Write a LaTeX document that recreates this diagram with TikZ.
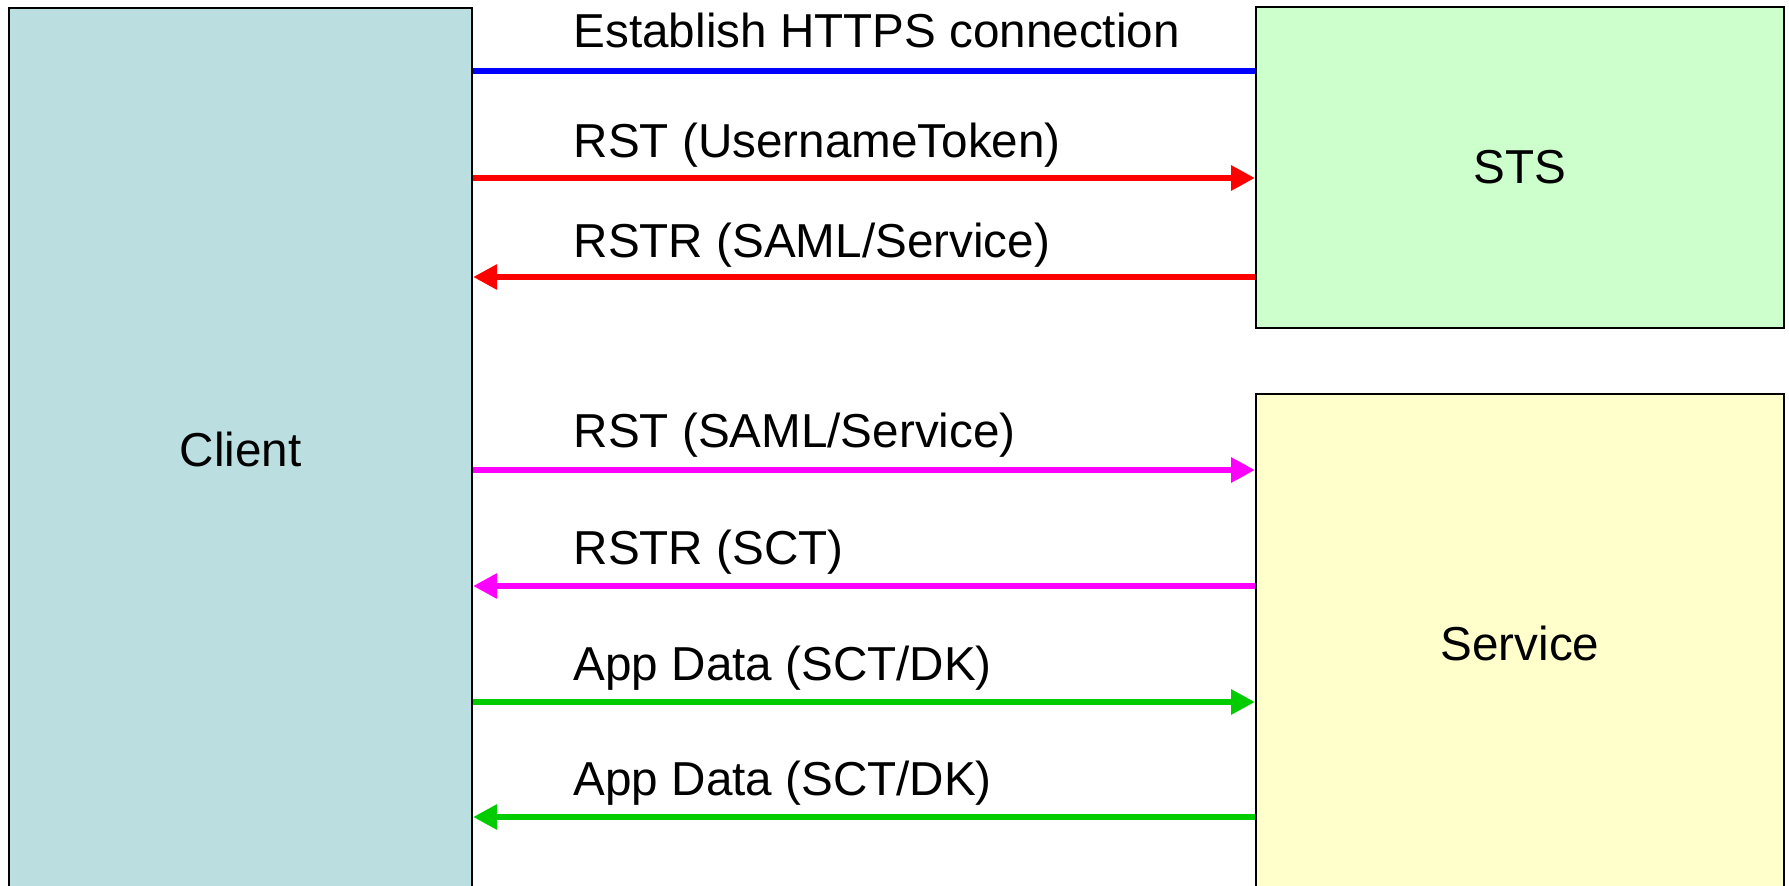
\documentclass[tikz,border=0pt]{standalone}
\usepackage{fontspec}
\setmainfont{Liberation Sans}
\usepackage{xcolor}
\usetikzlibrary{arrows.meta,positioning}
\definecolor{clientfill}{RGB}{187,223,225}
\definecolor{stsfill}{RGB}{204,255,204}
\definecolor{svcfill}{RGB}{255,255,204}
\definecolor{msgblue}{RGB}{0,0,255}
\definecolor{msgred}{RGB}{255,0,0}
\definecolor{msgpink}{RGB}{255,0,255}
\definecolor{msggreen}{RGB}{0,204,0}

\begin{document}
\begin{tikzpicture}[
  font=\fontsize{13.55}{16.2}\selectfont,
  party/.style={draw, line width=0.6pt, rectangle, inner sep=0pt, align=center},
  msg/.style={line width=1.7pt},
  arrow/.style={msg, -{Triangle[length=0.24cm, width=0.24cm]}},
  lbl/.style={anchor=base west, inner sep=0pt}
]
\useasboundingbox (0,0) rectangle (17.89,8.85);

\node[party, anchor=north west, fill=clientfill, minimum width=4.63cm, minimum height=8.83cm] (client) at (0.08,8.78) {Client};
\node[party, anchor=north west, fill=stsfill, minimum width=5.28cm, minimum height=3.21cm] (sts) at (12.55,8.79) {STS};
\node[party, fill=svcfill, minimum width=5.28cm, minimum height=4.99cm, below=0.64cm of sts] (svc) {Service};

% client <-> STS
\draw[msg, msgblue] (client.east |- 0,8.14) -- (sts.west |- 0,8.14);
\node[lbl] (m1) at (5.73,8.38) {Establish HTTPS connection};
\draw[arrow, msgred] (client.east |- 0,7.07) -- (sts.west |- 0,7.07);
\node[lbl] (m2) at (5.73,7.28) {RST (UsernameToken)};
\draw[arrow, msgred] (sts.west |- 0,6.08) -- (client.east |- 0,6.08);
\node[lbl] (m3) at (5.73,6.28) {RSTR (SAML/Service)};

% client <-> service
\draw[arrow, msgpink] (client.east |- 0,4.15) -- (svc.west |- 0,4.15);
\node[lbl] (m4) at (5.73,4.38) {RST (SAML/Service)};
\draw[arrow, msgpink] (svc.west |- 0,2.99) -- (client.east |- 0,2.99);
\node[lbl] (m5) at (5.73,3.21) {RSTR (SCT)};
\draw[arrow, msggreen] (client.east |- 0,1.83) -- (svc.west |- 0,1.83);
\node[lbl] (m6) at (5.73,2.05) {App Data (SCT/DK)};
\draw[arrow, msggreen] (svc.west |- 0,0.68) -- (client.east |- 0,0.68);
\node[lbl] (m7) at (5.73,0.90) {App Data (SCT/DK)};

\end{tikzpicture}
\end{document}
